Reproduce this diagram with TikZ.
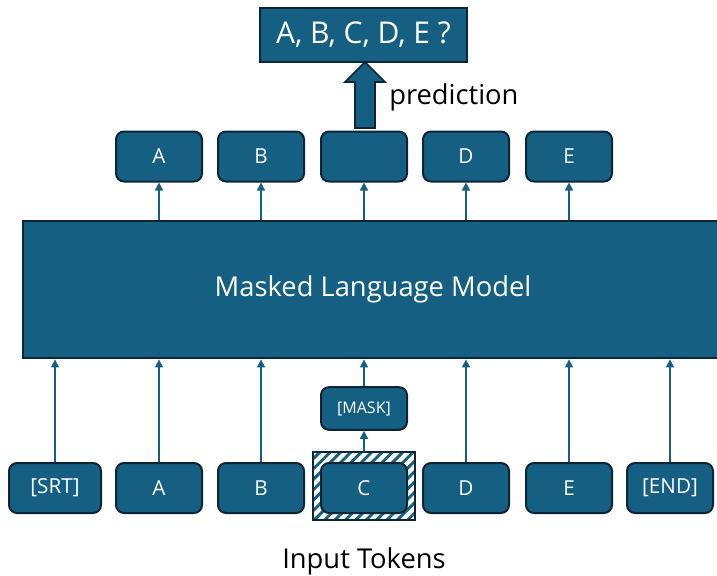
\documentclass[tikz,border=0pt]{standalone}
\usepackage{fontspec}
\setmainfont{Open Sans}
\usetikzlibrary{arrows.meta,patterns.meta}
\definecolor{teal}{HTML}{156082}
\definecolor{edge}{HTML}{0E2535}
\tikzset{
  tok/.style={draw=edge, fill=teal, line width=1.5pt, rounded corners=6pt, minimum width=64.5pt, minimum height=37.5pt, text=white, font=\fontsize{15.5}{18}\selectfont, inner sep=0pt},
  conn/.style={draw=teal, line width=1.2pt, -{Triangle[length=6pt,width=6pt]}},
}
\begin{document}
\begin{tikzpicture}[x=0.75pt,y=-0.75pt]
\useasboundingbox (0,0) rectangle (717,575);
% output box
\node[draw=edge, fill=teal, line width=1.5pt, minimum width=155pt, minimum height=40.5pt, text=white, font=\fontsize{22.5}{26}\selectfont, inner sep=0pt] (out) at (363.5,35) {A, B, C, D, E ?};
% top row
\node[tok] (oA) at (159,156.5) {A};
\node[tok] (oB) at (261,156.5) {B};
\node[tok] (oC) at (364,156.5) {};
\node[tok] (oD) at (466,156.5) {D};
\node[tok] (oE) at (569,156.5) {E};
% block arrow
\draw[draw=edge, fill=teal, line width=1.2pt] (355,128) -- (355,82) -- (345,82) -- (365,62) -- (385,82) -- (375,82) -- (375,128) -- cycle;
\node[anchor=west, font=\fontsize{20.5}{24}\selectfont, inner sep=0pt] (pred) at (389,97) {prediction};
% model
\node[draw=edge, fill=teal, line width=1.8pt, minimum width=528pt, minimum height=102.75pt, anchor=north west, text=white, inner sep=0pt] (mlm) at (22,220) {};
\node[text=white, font=\fontsize{20.5}{24}\selectfont, inner sep=0pt] (mlmt) at (373,289) {Masked Language Model};
% hatched
\fill[white] (313,452) rectangle (415,520);
\fill[pattern={Lines[angle=45,distance=5.5pt,line width=2.2pt]}, pattern color=teal] (313,452) rectangle (415,520);
\draw[edge, line width=1.2pt] (313,452) rectangle (415,520);
% bottom row
\node[tok, minimum width=69pt] (iS) at (55,488) {[SRT]};
\node[tok] (iA) at (159,488) {A};
\node[tok] (iB) at (261,488) {B};
\node[tok] (iC) at (364,488) {C};
\node[tok] (iD) at (466,488) {D};
\node[tok] (iE) at (569,488) {E};
\node[tok] (iN) at (670,488) {[END]};
\node[tok, minimum height=32pt, font=\fontsize{12}{14}\selectfont] (mask) at (364,408.5) {[MASK]};
\node[font=\fontsize{20.5}{24}\selectfont, inner sep=0pt] (lbl) at (364,561) {Input Tokens};
% connectors
\foreach \n in {oA,oB,oC,oD,oE}{
  \draw[conn] (\n|-mlm.north) -- (\n.south);
}
\foreach \n in {iS,iA,iB,iD,iE,iN}{
  \draw[conn] (\n.north) -- (\n|-mlm.south);
}
\draw[conn] (iC.north|-313,452) -- (mask.south);
\draw[conn] (mask.north) -- (mask|-mlm.south);
\end{tikzpicture}
\end{document}
